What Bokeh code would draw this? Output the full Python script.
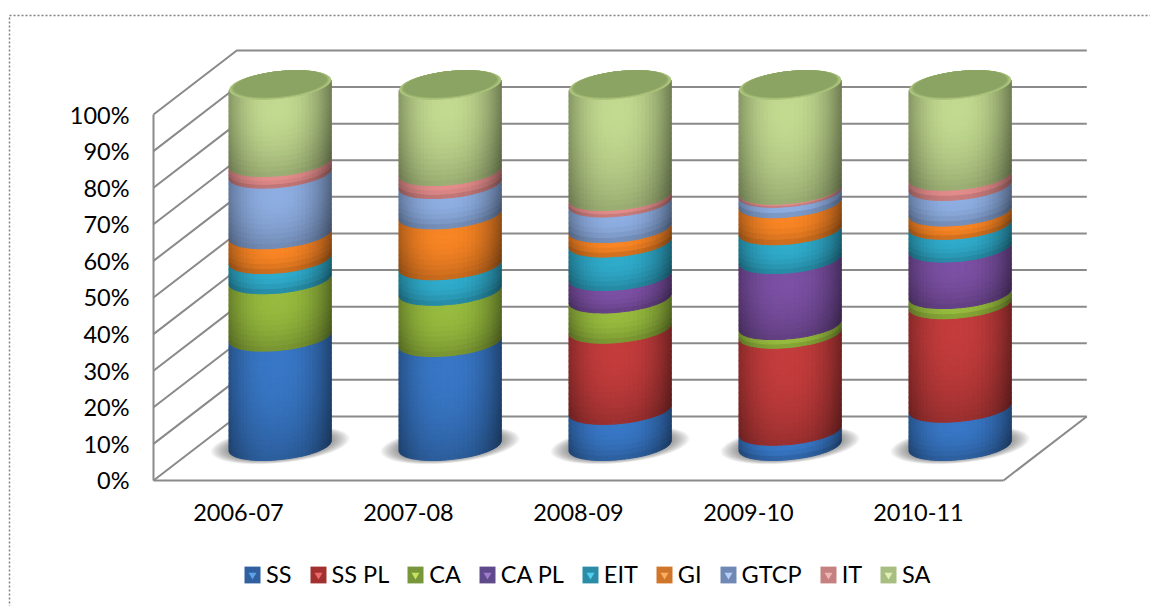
import numpy as np
from bokeh.plotting import figure
from bokeh.models import (BoxAnnotation, FixedTicker, Legend, LegendItem, Range1d)
from bokeh.embed import file_html
from bokeh.resources import INLINE

# ---------- data (percent of each year) ----------
YEARS = ["2006-07", "2007-08", "2008-09", "2009-10", "2010-11"]
SERIES = ["SS", "SS PL", "CA", "CA PL", "EIT", "GI", "GTCP", "IT", "SA"]
SS = [30.3, 28.8, 10.0, 4.2, 10.6]
SS_PL = [0, 0, 22.5, 26.9, 28.7]
CA = [15.9, 14.2, 8.4, 2.4, 2.8]
CA_PL = [0, 0, 6.2, 18.3, 12.9]
EIT = [5.6, 7.1, 9.3, 8.0, 6.3]
GI = [6.9, 14.1, 4.0, 7.5, 3.7]
GTCP = [16.8, 8.4, 7.1, 2.9, 7.1]
IT = [3.2, 3.6, 1.8, 0.8, 2.8]
SA = [21.3, 23.8, 30.7, 29.0, 25.1]
VALUES = [SS, SS_PL, CA, CA_PL, EIT, GI, GTCP, IT, SA]
PCT_TICKS = [0, 10, 20, 30, 40, 50, 60, 70, 80, 90, 100]
PCT_LABELS = ["0%", "10%", "20%", "30%", "40%", "50%", "60%", "70%", "80%", "90%", "100%"]

# ---------- styles ----------
BRIGHT = ["#3877c6", "#c43c3c", "#97bb3e", "#7c50a4", "#2fabcb", "#f98524", "#8eaee2", "#e48c8c", "#c2da90"]
SWATCH = ["#30609f", "#a33030", "#78963a", "#5f4a8b", "#2b8ca8", "#d0762a", "#7088b4", "#c58080", "#a8bd80"]
GLINT = ["#5f9fe6", "#ec6a6a", "#c3e35f", "#a07ccc", "#4fd0ee", "#fbb060", "#b8d0f6", "#f0b4b4", "#e2f0b8"]
GRID = "#8a8a8a"
FONT = "Lato"
FS = "23.5px"

# 3-D look, expressed in axis units
DEPTH_X = 0.49      # category units
DEPTH_Y = 17.5      # percent units
HALF_W = 0.30       # cylinder half width, category units
ARC_A = 3.8         # ellipse minor part, percent units
ARC_B = 1.37        # ellipse tilt, percent units
BASE_Y = 9.53
SCALE_Y = 0.9855


def hex_rgb(c):
    return np.array([int(c[i:i + 2], 16) for i in (1, 3, 5)], float)


def to_hex(a):
    a = np.clip(np.round(a), 0, 255).astype(int)
    return "#%02x%02x%02x" % tuple(a)


def level(p):
    return BASE_Y + SCALE_Y * p


# the frame fills the whole picture; the two axes are pinned at the chart's origin
p = figure(width=1150, height=606, output_backend="svg", toolbar_location=None,
           x_range=Range1d(-1.4, 5.3647), y_range=Range1d(-34.43, 131.15),
           min_border=0)
p.outline_line_color = None
p.grid.visible = False
p.background_fill_color = "white"
p.border_fill_color = "white"

# axes
for ax, ticks, bounds in ((p.yaxis[0], PCT_TICKS, (0, 100)), (p.xaxis[0], list(range(5)), (-0.5, 4.5))):
    ax.ticker = FixedTicker(ticks=ticks)
    ax.bounds = bounds
    ax.axis_line_color = GRID
    ax.axis_line_width = 2
    ax.major_tick_line_color = None
    ax.minor_tick_line_color = None
    ax.major_label_text_font = FONT
    ax.major_label_text_font_size = FS
    ax.major_label_text_color = "#000000"
p.yaxis[0].fixed_location = -0.5
p.xaxis[0].fixed_location = 0
p.yaxis[0].major_label_overrides = dict(zip(PCT_TICKS, PCT_LABELS))
p.xaxis[0].major_label_overrides = dict(zip(range(5), YEARS))
p.yaxis[0].major_label_standoff = 18
p.xaxis[0].major_label_standoff = 18

# walls and floor
wall_x, wall_y = [], []
for t in PCT_TICKS:
    wall_x.append([-0.5, -0.5 + DEPTH_X, 4.5 + DEPTH_X])
    wall_y.append([t, t + DEPTH_Y, t + DEPTH_Y])
wall_x.append([4.5, 4.5 + DEPTH_X])
wall_y.append([0, DEPTH_Y])
p.multi_line(wall_x, wall_y, line_color=GRID, line_width=2)

centers = [i + DEPTH_X / 2 for i in range(len(YEARS))]

# soft shadows under the cylinders
sh_x, sh_y = [], []
th = np.linspace(0, 2 * np.pi, 73)
for c in centers:
    for s in np.linspace(1.0, 1.36, 12):
        sh_x.append(c + HALF_W * s * np.cos(th))
        sh_y.append(level(0) + 0.15 + (1 + (s - 1) * 0.75) * (ARC_A * np.sin(th) + ARC_B * np.cos(th)) * 1.02)
p.patches(sh_x, sh_y, fill_color="#3c3c3c", fill_alpha=0.06, line_color=None)

# cylinders: one strip mesh per stacked series
theta = np.linspace(0, np.pi, 37)
U = -np.cos(theta)
ARC = np.sqrt(np.clip(1 - U ** 2, 0, 1))
front = lambda lev: lev - ARC_A * ARC + ARC_B * U

cum = np.zeros(len(YEARS))
for s, vals in enumerate(VALUES):
    base = hex_rgb(BRIGHT[s])
    xs, ys, cols = [], [], []
    for i, v in enumerate(vals):
        if v > 0:
            bands = max(2, int(np.ceil(v / 1.5)))
            edges = np.linspace(cum[i], cum[i] + v, bands + 1)
            for b in range(bands):
                lo, hi = front(level(edges[b])), front(level(edges[b + 1]))
                vv = 1 - (b + 0.5) / bands
                for k in range(len(U) - 1):
                    um = (U[k] + U[k + 1]) / 2
                    f = (1 - 0.36 * abs(um + 0.06) ** 2.4) * (1 - 0.27 * abs(vv - 0.12) ** 1.8)
                    xs.append(list(centers[i] + HALF_W * U[k:k + 2]) + list(centers[i] + HALF_W * U[k:k + 2][::-1]))
                    ys.append([lo[k], lo[k + 1], hi[k + 1], hi[k]])
                    cols.append(to_hex(base * f))
    p.patches(xs, ys, fill_color=cols, line_color=cols, line_width=1.1)
    cum += np.array(vals, float)

# top faces
top_x, top_y, top_c = [], [], []
light, dark = hex_rgb("#b9d086"), hex_rgb("#8ba463")
for i, c in enumerate(centers):
    for j, s in enumerate(np.linspace(1.0, 0.9, 9)):
        shift = (1 - s) * ARC_A * 0.95
        top_x.append(c + HALF_W * s * np.cos(th))
        top_y.append(level(cum[i]) + shift + s * (ARC_A * np.sin(th) + ARC_B * np.cos(th)))
        mix = min(1, j / 7) if j else 0.5
        top_c.append(to_hex(light * (1 - mix) + dark * mix))
p.patches(top_x, top_y, fill_color=top_c, line_color=None)

# legend: the keys only exist in the legend, their marks have no position on the chart
nan = float("nan")
items = []
for name, col, glint in zip(SERIES, SWATCH, GLINT):
    r = p.quad(left=[nan], right=[nan], top=[nan], bottom=[nan], fill_color=col, line_color=None)
    g = p.scatter([nan], [nan], marker="inverted_triangle", size=8, fill_color=glint, line_color=None)
    items.append(LegendItem(label=name, renderers=[r, g]))
legend = Legend(items=items, orientation="horizontal", location=(242, 18),
                glyph_width=20, glyph_height=21, label_standoff=4, spacing=16,
                padding=0, margin=0, border_line_color=None, background_fill_alpha=0,
                label_text_font=FONT, label_text_font_size=FS, label_text_color="#000000")
p.add_layout(legend, "center")

# dotted frame of the picture (only left and top edges fall inside the window)
p.add_layout(BoxAnnotation(left=9, top=15, right=1400, bottom=800,
                           left_units="canvas", right_units="canvas", top_units="canvas", bottom_units="canvas",
                           fill_alpha=0, line_color="#808080", line_alpha=1, line_width=1.5, line_dash="2 2"))

open("out.html", "w").write(file_html(p, INLINE))
